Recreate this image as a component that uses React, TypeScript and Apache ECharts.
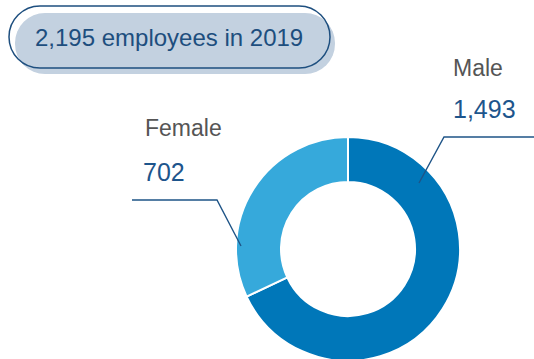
import React, { useEffect, useRef } from "react";
import * as echarts from "echarts";

const categories = ["Male", "Female"];
const values = [1493, 702];
const year = 2019;
const colors = ["#0077b9", "#36a9db"];

const fmt = (n: number) => n.toLocaleString("en-US");

export default function App() {
  const ref = useRef<HTMLDivElement>(null);
  useEffect(() => {
    const chart = echarts.init(ref.current!, null, { renderer: "svg" });
    const total = values.reduce((a, b) => a + b, 0);
    const labelFont = "Liberation Sans, Arial, sans-serif";
    const lineColor = "#1e5487";
    const valueColor = "#1d558c";
    const nameColor = "#555555";
    chart.setOption({
      animation: false,
      series: [
        {
          type: "pie",
          center: [348, 249],
          radius: [67, 112],
          startAngle: 90,
          clockwise: true,
          label: { show: false },
          labelLine: { show: false },
          emphasis: { disabled: true },
          itemStyle: { borderColor: "#ffffff", borderWidth: 2 },
          data: categories.map((c, i) => ({
            name: c,
            value: values[i],
            itemStyle: { color: colors[i] },
          })),
        },
      ],
      graphic: [
        {
          type: "rect",
          z: 100,
          shape: { x: 15, y: 13, width: 320, height: 61, r: 30 },
          style: { fill: "#c3d1e0" },
        },
        {
          type: "rect",
          z: 101,
          shape: { x: 9, y: 6, width: 321, height: 62, r: 31 },
          style: { fill: "none", stroke: "#1e4f7f", lineWidth: 1.5 },
        },
        {
          type: "text",
          z: 102,
          x: 35,
          y: 37,
          style: {
            text: `${fmt(total)} employees in ${year}`,
            font: `24px ${labelFont}`,
            fill: "#1d4e7e",
            verticalAlign: "middle",
            align: "left",
          },
        },
        // Male label
        {
          type: "polyline",
          z: 100,
          shape: { points: [[419, 183], [444, 137], [534, 137]] },
          style: { stroke: lineColor, lineWidth: 1.4, fill: "none" },
        },
        {
          type: "text",
          z: 100,
          x: 453,
          y: 68,
          style: {
            text: categories[0],
            font: `23px ${labelFont}`,
            fill: nameColor,
            verticalAlign: "middle",
          },
        },
        {
          type: "text",
          z: 100,
          x: 453,
          y: 109,
          style: {
            text: fmt(values[0]),
            font: `25px ${labelFont}`,
            fill: valueColor,
            verticalAlign: "middle",
          },
        },
        // Female label
        {
          type: "polyline",
          z: 100,
          shape: { points: [[241, 246], [217, 200], [132, 200]] },
          style: { stroke: lineColor, lineWidth: 1.4, fill: "none" },
        },
        {
          type: "text",
          z: 100,
          x: 145,
          y: 128,
          style: {
            text: categories[1],
            font: `23px ${labelFont}`,
            fill: nameColor,
            verticalAlign: "middle",
          },
        },
        {
          type: "text",
          z: 100,
          x: 143,
          y: 172,
          style: {
            text: fmt(values[1]),
            font: `25px ${labelFont}`,
            fill: valueColor,
            verticalAlign: "middle",
          },
        },
      ],
    });
    return () => chart.dispose();
  }, []);
  return (
    <div
      ref={ref}
      style={{ position: "fixed", left: 0, top: 0, width: 534, height: 359, background: "#ffffff" }}
    />
  );
}
